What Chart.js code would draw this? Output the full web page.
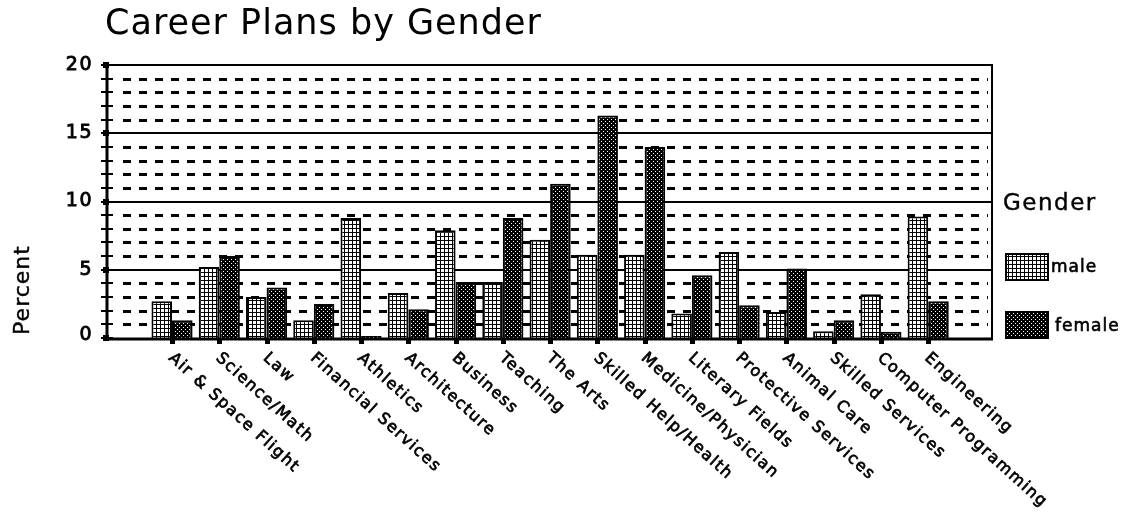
<!DOCTYPE html>
<html>
<head>
<meta charset="utf-8">
<title>Career Plans by Gender</title>
<script src="https://cdn.jsdelivr.net/npm/chart.js@4/dist/chart.umd.min.js"></script>
<style>
  html, body { margin: 0; padding: 0; background: #fff; }
  canvas { display: block; }
</style>
</head>
<body>
<canvas id="chart" width="1121" height="513"></canvas>
<script>
// ---- data ----
const categories = [
  'Air & Space Flight', 'Science/Math', 'Law', 'Financial Services', 'Athletics',
  'Architecture', 'Business', 'Teaching', 'The Arts', 'Skilled Help/Health',
  'Medicine/Physician', 'Literary Fields', 'Protective Services', 'Animal Care',
  'Skilled Services', 'Computer Programming', 'Engineering'
];
const maleValues   = [2.7, 5.2, 3.0, 1.3, 8.8, 3.3, 7.9, 4.1, 7.2, 6.1, 6.1, 1.8, 6.3, 1.9, 0.5, 3.2, 8.9];
const femaleValues = [1.3, 6.0, 3.7, 2.5, 0.15, 2.1, 4.1, 8.8, 11.3, 16.3, 14.0, 4.6, 2.4, 5.1, 1.3, 0.45, 2.7];
const seriesNames  = ['male', 'female'];
const yTickLabels  = ['0', '5', '10', '15', '20'];
const chartTitle   = 'Career Plans by Gender';
const yAxisTitle   = 'Percent';
const legendTitle  = 'Gender';

const FONT = '"DejaVu Sans", Verdana, sans-serif';

// ---- stipple fills ----
function makePattern(bg, fg, dots) {
  const c = document.createElement('canvas');
  c.width = 4; c.height = 4;
  const g = c.getContext('2d');
  g.fillStyle = bg; g.fillRect(0, 0, 4, 4);
  g.fillStyle = fg;
  dots.forEach(([x, y, w, h]) => g.fillRect(x, y, w, h));
  return g.createPattern(c, 'repeat');
}
const ctx = document.getElementById('chart').getContext('2d');
// light fill: white cells on a fine black lattice
const maleFill = makePattern('#ffffff', '#000000', [[0, 0, 4, 1], [0, 0, 1, 4]]);
// dark fill: black with staggered white dots
const femaleFill = makePattern('#000000', '#ffffff', [[1, 1, 1, 1], [3, 3, 1, 1]]);
const fills = [maleFill, femaleFill];

// text with a slightly heavier stroke
function heavyText(c, str, x, y, weight) {
  c.fillText(str, x, y);
  c.lineWidth = weight;
  c.strokeText(str, x, y);
}

// ---- gridlines behind the bars ----
const gridPlugin = {
  id: 'grid',
  beforeDatasetsDraw(chart) {
    const { ctx, chartArea: a, scales: { y } } = chart;
    ctx.save();
    ctx.strokeStyle = '#000';
    for (let v = 1; v < 20; v++) {
      const py = Math.round(y.getPixelForValue(v));
      ctx.beginPath();
      if (v % 5 === 0) {
        ctx.setLineDash([]);
        ctx.lineWidth = 2;
        ctx.moveTo(a.left, py); ctx.lineTo(a.right, py);
      } else {
        ctx.setLineDash([8, 8]);
        ctx.lineWidth = 3;
        ctx.moveTo(a.left + 16, py + 0.5); ctx.lineTo(a.right - 4, py + 0.5);
      }
      ctx.stroke();
    }
    ctx.restore();
  }
};

// ---- axes, labels, title and legend ----
const decorPlugin = {
  id: 'decor',
  afterDatasetsDraw(chart) {
    const { ctx, chartArea: a, scales: { x, y } } = chart;
    ctx.save();
    ctx.strokeStyle = '#000';
    ctx.fillStyle = '#000';
    ctx.setLineDash([]);

    // frame
    ctx.lineWidth = 2;
    ctx.beginPath();
    ctx.moveTo(a.left, a.top); ctx.lineTo(a.right, a.top); ctx.lineTo(a.right, a.bottom);
    ctx.stroke();
    ctx.lineWidth = 3;
    ctx.beginPath();
    ctx.moveTo(a.left, a.top - 1); ctx.lineTo(a.left, a.bottom + 1); ctx.lineTo(a.right + 1, a.bottom + 1);
    ctx.stroke();

    // y ticks at every unit, heavier marks at the labelled values
    ctx.lineWidth = 2;
    for (let v = 0; v <= 20; v++) {
      const py = Math.round(y.getPixelForValue(v));
      ctx.beginPath();
      ctx.moveTo(a.left - 6, py); ctx.lineTo(a.left + 6, py);
      ctx.stroke();
      if (v % 5 === 0) ctx.fillRect(a.left - 4, py - 3, 6, 6);
    }

    // y tick labels
    ctx.font = '19px ' + FONT;
    ctx.textAlign = 'right';
    ctx.textBaseline = 'middle';
    ctx.letterSpacing = '1.5px';
    yTickLabels.forEach(t => {
      const v = Number(t);
      heavyText(ctx, t, a.left - 14, y.getPixelForValue(v) - (v === 0 ? 3 : 0), 0.9);
    });

    // y axis title
    ctx.save();
    ctx.font = '22px ' + FONT;
    ctx.letterSpacing = '1px';
    ctx.textAlign = 'center';
    ctx.textBaseline = 'middle';
    ctx.translate(23, 290);
    ctx.rotate(-Math.PI / 2);
    heavyText(ctx, yAxisTitle, 0, 0, 0.4);
    ctx.restore();

    // category tick marks and slanted labels
    ctx.font = '16px ' + FONT;
    ctx.letterSpacing = '1.5px';
    ctx.textAlign = 'left';
    ctx.textBaseline = 'top';
    categories.forEach((name, i) => {
      const px = x.getPixelForValue(i);
      ctx.fillRect(Math.round(px) - 2, a.bottom + 2, 5, 4);
      ctx.save();
      ctx.translate(px + 4, a.bottom + 12);
      ctx.rotate(42 * Math.PI / 180);
      heavyText(ctx, name, 0, 0, 0.7);
      ctx.restore();
    });

    // title
    ctx.font = '35px ' + FONT;
    ctx.letterSpacing = '1px';
    ctx.textAlign = 'left';
    ctx.textBaseline = 'alphabetic';
    ctx.fillText(chartTitle, 105, 34);

    // legend
    ctx.font = '23px ' + FONT;
    ctx.letterSpacing = '1.5px';
    ctx.textBaseline = 'middle';
    heavyText(ctx, legendTitle, 1003, 204, 0.4);
    const boxes = [{ y: 254, tx: 1051, ty: 268 }, { y: 312, tx: 1055, ty: 327 }];
    ctx.font = '17px ' + FONT;
    ctx.letterSpacing = '1px';
    seriesNames.forEach((n, k) => {
      const b = boxes[k];
      ctx.fillStyle = fills[k];
      ctx.fillRect(1006, b.y, 42, 26);
      ctx.lineWidth = 2;
      ctx.strokeRect(1006, b.y, 42, 26);
      ctx.fillStyle = '#000';
      heavyText(ctx, n, b.tx, b.ty, 0.6);
    });
    ctx.letterSpacing = '0px';
    ctx.restore();
  }
};

new Chart(ctx, {
  type: 'bar',
  data: {
    datasets: [maleValues, femaleValues].map((vals, k) => ({
      label: seriesNames[k],
      data: vals.map((v, i) => ({ x: i, y: v })),
      backgroundColor: fills[k],
      borderColor: '#000',
      borderWidth: 2,
      borderSkipped: 'start',
      categoryPercentage: 0.87,
      barPercentage: 1.0
    }))
  },
  options: {
    responsive: false,
    animation: false,
    events: [],
    layout: { padding: { left: 107, right: 129, top: 65, bottom: 175 } },
    scales: {
      x: { type: 'linear', min: -1.376, max: 17.35, display: false, offset: false },
      y: { min: 0, max: 20, display: false }
    },
    plugins: {
      legend: { display: false },
      tooltip: { enabled: false },
      title: { display: false }
    }
  },
  plugins: [gridPlugin, decorPlugin]
});
</script>
</body>
</html>
